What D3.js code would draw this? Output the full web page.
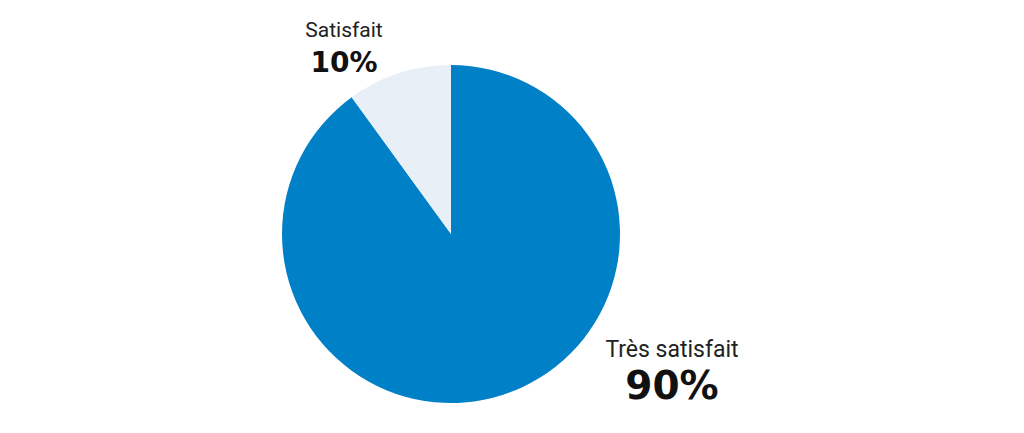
<!DOCTYPE html>
<html><head><meta charset="utf-8">
<script src="https://cdn.jsdelivr.net/npm/d3@7"></script>
<style>body{margin:0;background:#fff}svg{display:block}</style>
</head><body>
<svg id="c" width="1024" height="433"></svg>
<script>
const categories = ["Très satisfait", "Satisfait"];
const values = [90, 10];
const valueLabels = ["90%", "10%"];
const colors = ["#0080C6", "#E8EFF7"];

const svg = d3.select("#c");
const cx = 451, cy = 234, r = 169;
const g = svg.append("g").attr("transform", `translate(${cx},${cy})`);
const pie = d3.pie().sort(null).startAngle(0).endAngle(2*Math.PI).value(d => d);
const arcs = pie(values);
const arc = d3.arc().innerRadius(0).outerRadius(r);
g.selectAll("path").data(arcs).enter().append("path")
  .attr("d", arc).attr("fill", (d,i) => colors[i]);

const labelPos = [
  {x: 672, y: 357, vy: 399, fs: 23, vfs: 39},
  {x: 344, y: 37, vy: 72, fs: 21, vfs: 28}
];
categories.forEach((c, i) => {
  const p = labelPos[i];
  svg.append("text").attr("x", p.x).attr("y", p.y).attr("text-anchor", "middle")
    .attr("font-family", "Roboto, sans-serif").attr("font-size", p.fs).attr("fill", "#222").text(c);
  svg.append("text").attr("x", p.x).attr("y", p.vy).attr("text-anchor", "middle")
    .attr("font-family", "'DejaVu Sans', sans-serif").attr("font-weight", "bold")
    .attr("font-size", p.vfs).attr("fill", "#111").text(valueLabels[i]);
});
</script>
</body></html>
